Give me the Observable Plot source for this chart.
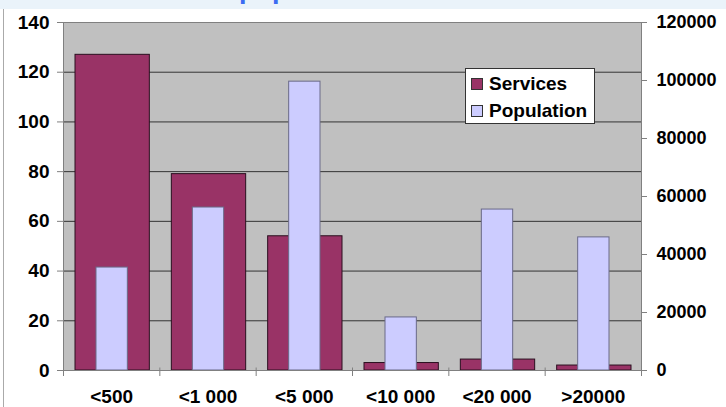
<!DOCTYPE html>
<html><head><meta charset="utf-8">
<script src="https://cdn.jsdelivr.net/npm/d3@7"></script>
<script src="https://cdn.jsdelivr.net/npm/@observablehq/plot@0.6"></script>
<style>
body{margin:0;background:#fff;font-family:"Liberation Sans",Arial,sans-serif;}
#wrap{position:relative;width:726px;height:407px;overflow:hidden;background:#fff;}
#title{height:9px;background:#eaf3fa;overflow:hidden;position:relative;}
#title span{position:absolute;left:239px;top:-26px;font:bold 27px "Liberation Sans",Arial,sans-serif;color:#3b6cf2;white-space:nowrap;}
#frame{position:absolute;left:3px;top:9px;width:1px;height:398px;background:#aaa;}
#legend{position:absolute;left:465px;top:68px;width:128px;height:54px;background:#fff;border:1px solid #333;font:bold 19px "Liberation Sans",Arial,sans-serif;color:#000;}
#legend .row{position:absolute;left:5px;height:20px;display:flex;align-items:center;}
#legend .sw{width:10px;height:10px;border:1px solid #333;margin-right:6px;}
</style></head>
<body>
<div id="wrap">
  <div id="title"><span>population</span></div>
  <div id="frame"></div>
  <div id="chart"></div>
  <div id="legend"></div>
</div>
<script>
const categories = ["<500", "<1 000", "<5 000", "<10 000", "<20 000", ">20000"];
const services = [127, 79, 54, 3, 4.4, 2];
const population = [35500, 56200, 99600, 18300, 55500, 45900];
const leftTicks = [0, 20, 40, 60, 80, 100, 120, 140];
const rightTicks = [0, 20000, 40000, 60000, 80000, 100000, 120000];
const leftMax = 140;
const rightMax = 120000;
const seriesNames = ["Services", "Population"];
const seriesColors = ["#993366", "#ccccff"];

const data = categories.map((c, i) => ({i, c, s: services[i], p: population[i] * leftMax / rightMax}));
const boundaries = d3.range(categories.length + 1);

const chart = Plot.plot({
  width: 726,
  height: 398,
  marginTop: 13,
  marginBottom: 37,
  marginLeft: 63,
  marginRight: 85,
  style: {fontFamily: "'Liberation Sans', Arial, sans-serif", fontSize: "19px", fontWeight: "bold", color: "#000", background: "transparent"},
  x: {domain: [0, categories.length], axis: null},
  y: {domain: [0, leftMax], axis: null},
  marks: [
    Plot.frame({fill: "#c0c0c0", stroke: null}),
    Plot.ruleY(leftTicks.slice(1, -1), {stroke: "#333", strokeWidth: 1}),
    Plot.ruleY([leftMax], {stroke: "#808080", strokeWidth: 1}),
    Plot.rectY(data, {x1: d => d.i, x2: d => d.i + 1, y: "s", insetLeft: 12, insetRight: 10, fill: seriesColors[0], stroke: "#2a0f1f", strokeWidth: 1}),
    Plot.rectY(data, {x1: d => d.i, x2: d => d.i + 1, y: "p", insetLeft: 33, insetRight: 32, fill: seriesColors[1], stroke: "#6a6a88", strokeWidth: 1}),
    Plot.ruleX([0, categories.length], {stroke: "#808080"}),
    Plot.ruleY([0], {stroke: "#808080"}),
    Plot.axisY(leftTicks, {anchor: "left", tickSize: 6, tickPadding: 8, stroke: "#808080", tickFormat: d => String(d)}),
    Plot.axisY(rightTicks.map(v => v * leftMax / rightMax), {anchor: "right", tickSize: 5, tickPadding: 10, fontSize: 18, stroke: "#808080", tickFormat: d => String(Math.round(d * rightMax / leftMax))}),
    Plot.axisX(boundaries, {anchor: "bottom", tickSize: 6, stroke: "#808080", text: null}),
    Plot.ruleX(boundaries, {y1: 0, y2: 1, stroke: "#808080"}),
    Plot.axisX(data.map(d => d.i + 0.5), {anchor: "bottom", tickSize: 0, tickPadding: 19, tickFormat: d => categories[Math.floor(d)]})
  ]
});
document.getElementById("chart").appendChild(chart);

const legend = document.getElementById("legend");
seriesNames.forEach((n, k) => {
  const row = document.createElement("div");
  row.className = "row";
  row.style.top = (k === 0 ? 5 : 32) + "px";
  row.innerHTML = `<div class="sw" style="background:${seriesColors[k]}"></div><span>${n}</span>`;
  legend.appendChild(row);
});
</script>
</body></html>
